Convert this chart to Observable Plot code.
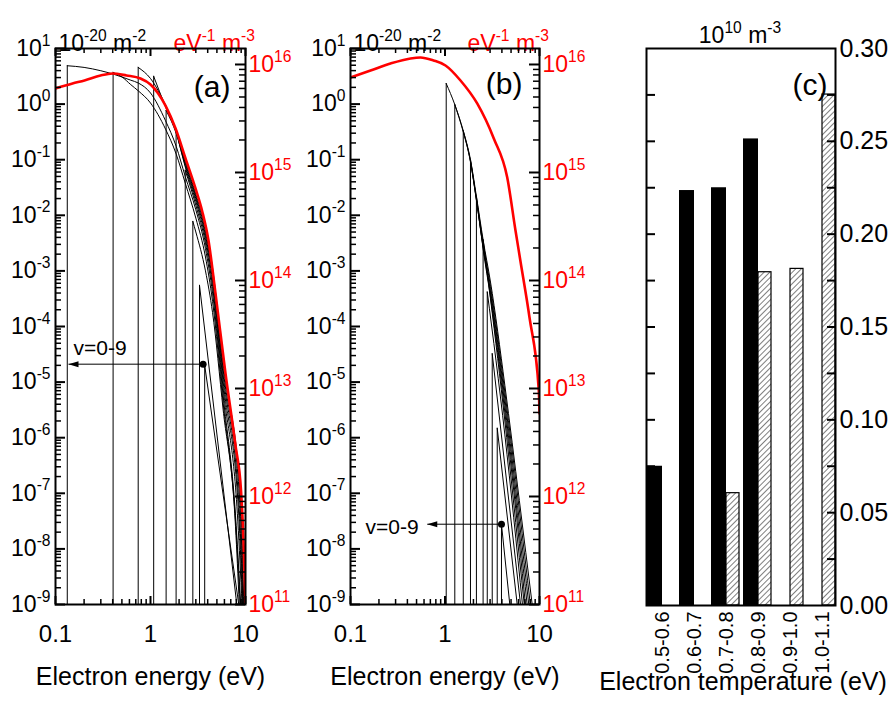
<!DOCTYPE html>
<html><head><meta charset="utf-8">
<script src="https://cdn.jsdelivr.net/npm/d3@7"></script>
<script src="https://cdn.jsdelivr.net/npm/@observablehq/plot@0.6"></script>
<style>
html,body{margin:0;padding:0;background:#fff;overflow:hidden;}
#root{position:relative;width:889px;height:706px;overflow:hidden;background:#fff;}
#root svg{position:absolute;top:0;overflow:visible;}
</style></head><body><div id="root"></div>
<script>
// ---------------- DATA ----------------
const energyDomain = [0.1, 10];             // eV, log axis
const energyTickLabels = [0.1, 1, 10];
const leftDecades = [-9,-8,-7,-6,-5,-4,-3,-2,-1,0,1];   // 10^-20 m^-2
const redDecades = [11,12,13,14,15,16];                  // eV^-1 m^-3
const redTopExponent = 16.148;

// Panel (a): v=0..9 curves, [energy eV, log10 value (10^-20 m^-2)]; first point = threshold/peak
const curvesA = [
  [[0.133,0.69],[0.2,0.66],[0.3,0.6],[0.404,0.54],[0.62,0.43],[0.742,0.38],[1.0,0.2],[1.44,-0.3],[1.865,-0.76],[2.32,-1.3],[3.0,-1.9],[3.79,-2.6],[4.5,-3.4],[5.82,-5.25],[7.85,-7.4],[8.9,-9]],
  [[0.404,0.57],[0.5,0.49],[0.62,0.35],[0.742,0.24],[1.0,0.02],[1.44,-0.45],[1.865,-0.9],[2.32,-1.42],[3.0,-2.05],[3.79,-2.75],[4.5,-3.55],[5.82,-5.38],[7.85,-7.5],[8.8,-9]],
  [[0.742,0.66],[1.0,0.46],[1.44,-0.02],[1.865,-0.47],[2.32,-1.02],[3.0,-1.62],[3.79,-2.24],[4.5,-2.95],[5.82,-4.68],[8.85,-7.08],[9.6,-9]],
  [[1.08,0.5],[1.44,-0.05],[1.865,-0.5],[2.32,-1.06],[3.0,-1.66],[3.79,-2.3],[4.5,-3.02],[5.82,-4.78],[8.75,-7.2],[9.5,-9]],
  [[1.46,-0.115],[1.865,-0.53],[2.32,-1.1],[3.0,-1.7],[3.79,-2.36],[4.5,-3.1],[5.82,-4.88],[8.6,-7.3],[9.4,-9]],
  [[1.86,-0.475],[2.32,-1.13],[3.0,-1.75],[3.79,-2.42],[4.5,-3.18],[5.82,-5.0],[8.5,-7.4],[9.3,-9]],
  [[2.32,-1.19],[3.0,-1.82],[3.79,-2.5],[4.5,-3.28],[5.82,-5.12],[8.3,-7.5],[9.2,-9]],
  [[2.79,-2.11],[3.0,-2.3],[3.79,-3.0],[4.5,-3.75],[5.82,-5.5],[7.85,-7.6],[8.6,-9]],
  [[3.28,-3.26],[8.1,-9]],
  [[3.72,-4.7],[8.5,-9]]
];
// Panel (a) EEDF (red), [energy eV, log10 value (eV^-1 m^-3)]
const eedfA = [[0.1,15.778],[0.151,15.824],[0.202,15.852],[0.298,15.898],[0.398,15.917],[0.559,15.898],[0.785,15.87],[1.0,15.815],[1.438,15.62],[1.837,15.407],[2.337,15.13],[2.977,14.852],[3.527,14.63],[4.078,14.37],[4.833,13.88],[6.158,13.139],[7.847,12.472],[8.967,12.056],[9.527,11.593],[10,11.0]];

// Panel (b)
const curvesB = [
  [[1.03,0.37],[1.27,-0.01],[1.56,-0.48],[1.86,-1.0],[2.15,-1.66],[2.53,-2.44],[3.03,-3.2],[4.3,-5.06],[6.12,-7.13],[8.37,-9]],
  [[1.27,-0.01],[1.56,-0.5],[1.86,-1.03],[2.15,-1.7],[2.53,-2.5],[3.03,-3.28],[4.3,-5.18],[6.12,-7.3],[8.0,-9]],
  [[1.56,-0.48],[1.86,-1.04],[2.15,-1.73],[2.53,-2.55],[3.03,-3.36],[4.3,-5.3],[6.12,-7.5],[7.7,-9]],
  [[1.86,-1.0],[2.15,-1.72],[2.53,-2.58],[3.03,-3.42],[4.3,-5.42],[6.12,-7.7],[7.4,-9]],
  [[2.15,-1.66],[2.53,-2.6],[3.03,-3.48],[4.3,-5.55],[6.12,-7.9],[7.1,-9]],
  [[2.53,-2.44],[3.03,-3.5],[4.3,-5.7],[6.12,-8.15],[6.9,-9]],
  [[2.8,-3.38],[4.3,-5.95],[6.6,-9]],
  [[3.16,-4.49],[6.3,-9]],
  [[3.57,-5.83],[5.81,-9]],
  [[3.96,-7.56],[4.85,-9]]
];
const eedfB = [[0.1,15.88],[0.163,15.944],[0.265,16.009],[0.432,16.056],[0.55,16.065],[0.756,16.037],[1.012,15.991],[1.459,15.852],[2.191,15.639],[3.284,15.315],[4.551,14.956],[5.572,14.463],[6.295,14.176],[7.838,13.657],[9.831,12.981],[10,12.769]];

// "v=0-9" annotation: arrow from dot (x1) to head (x2) at y; label at (tx, ty)
const annotA = {x1: 3.58, x2: 0.137, y: 2.1e-5, tx: 0.155, ty: 4.0e-5, label: "v=0-9"};
const annotB = {x1: 3.96, x2: 0.649, y: 2.78e-8, tx: 0.144, ty: 2.5e-8, label: "v=0-9"};

// Panel (c)
const temperatureBins = ["0.5-0.6","0.6-0.7","0.7-0.8","0.8-0.9","0.9-1.0","1.0-1.1"];
const solidValues   = [0.075, 0.2235, 0.225, 0.2513, null, null];
const hatchedValues = [null, null, 0.0605, 0.1795, 0.1813, 0.2752];
const densityTickLabels = [0, 0.05, 0.10, 0.15, 0.20, 0.25, 0.30];
const densityMinorTicks = [0.025,0.05,0.075,0.1,0.125,0.15,0.175,0.2,0.225,0.25,0.275];

// ---------------- HELPERS ----------------
const FONT = "'Liberation Sans', Arial, Helvetica, sans-serif";
const baseStyle = "background: transparent; font-family: 'Liberation Sans', Arial, sans-serif; overflow: visible;";
const root = document.getElementById("root");
const logMinor = (lo, hi) => { const t = []; for (let e = lo; e < hi; e++) for (let k = 2; k <= 9; k++) t.push(k * Math.pow(10, e)); return t; };
const pow = e => Math.pow(10, e);
const supLabel = d => "10^" + Math.round(Math.log10(d));
const arrowHead = {draw(ctx, size) { const r = Math.sqrt(size / Math.PI); ctx.moveTo(0, 0); ctx.lineTo(2 * r, -0.6 * r); ctx.lineTo(2 * r, 0.6 * r); ctx.closePath(); }};

// inward ticks: tick marks inset to the chosen length (fw, fh = frame size)
const inY = (ticks, side, len, sw, fw) => Plot.tickY(ticks, {y: d => d, stroke: "black", strokeWidth: sw, [side === "left" ? "insetRight" : "insetLeft"]: fw - len});
const inX = (ticks, side, len, sw, fh) => Plot.tickX(ticks, {x: d => d, stroke: "black", strokeWidth: sw, [side === "bottom" ? "insetTop" : "insetBottom"]: fh - len});

function place(svg, left) { svg.style.left = left + "px"; root.appendChild(svg); supify(svg); return svg; }

function supify(svg) {
  svg.querySelectorAll("text").forEach(t => {
    const s = t.textContent;
    if (!s.includes("^")) return;
    const fs = parseFloat(getComputedStyle(t).fontSize) || 22;
    while (t.firstChild) t.removeChild(t.firstChild);
    const parts = s.split(/\^(\S+)/);
    let raised = false;
    parts.forEach((p, i) => {
      if (!p) return;
      const ts = document.createElementNS("http://www.w3.org/2000/svg", "tspan");
      ts.textContent = p;
      if (i % 2) { ts.setAttribute("font-size", (fs * 0.68).toFixed(1)); ts.setAttribute("dy", (-fs * 0.45).toFixed(1)); raised = true; }
      else if (raised) { ts.setAttribute("dy", (fs * 0.45).toFixed(1)); raised = false; }
      t.appendChild(ts);
    });
  });
}

function energyPanel({left, ml, mr, curves, eedf, annot, letter, letterDx, letterDy, redDx}) {
  const rows = curves.flatMap((pts, v) => pts.map(([E, l]) => ({v, E, y: pow(l)})));
  const tops = curves.map((pts, v) => ({v, E: pts[0][0], y: pow(pts[0][1])}));
  const W = 300, H = 706, MT = 48, MB = 102;
  const fw = W - ml - mr, fh = H - MT - MB;
  const common = {width: W, height: H, marginLeft: ml, marginRight: mr, marginTop: MT, marginBottom: MB, style: baseStyle};
  const xMinor = logMinor(-1, 1);
  const base = Plot.plot({
    ...common,
    x: {type: "log", domain: energyDomain},
    y: {type: "log", domain: [1e-9, 10]},
    marks: [
      Plot.ruleX(tops, {x: "E", y1: 1e-9, y2: "y", stroke: "black", strokeWidth: 1}),
      Plot.line(rows, {x: "E", y: "y", z: "v", curve: "monotone-x", stroke: "black", strokeWidth: 1, clip: true}),
      Plot.link([annot], {x1: "x1", y1: "y", x2: "x2", y2: "y", stroke: "black", strokeWidth: 1}),
      Plot.dot([annot], {x: "x1", y: "y", r: 3.5, fill: "black"}),
      Plot.dot([annot], {x: "x2", y: "y", r: 5, symbol: arrowHead, fill: "black"}),
      Plot.text([annot], {x: "tx", y: "ty", text: "label", textAnchor: "start", fontSize: 21}),
      Plot.axisY(leftDecades.map(pow), {anchor: "left", tickSize: 0, tickPadding: 5, tickFormat: supLabel, label: null, fontSize: 23}),
      Plot.axisX(energyTickLabels, {anchor: "bottom", tickSize: 0, tickPadding: 20, tickFormat: d => String(d), label: null, fontSize: 24}),
      Plot.text(["Electron energy (eV)"], {frameAnchor: "bottom", text: d => d, dy: 80, fontSize: 25}),
      Plot.text([letter], {frameAnchor: "top-right", text: d => d, textAnchor: "end", dx: letterDx, dy: letterDy, fontSize: 30}),
      Plot.text(["10^-20 m^-2"], {frameAnchor: "top-left", text: d => d, textAnchor: "start", dx: 3, dy: -14, fontSize: 23}),
      Plot.text(["eV^-1 m^-3"], {frameAnchor: "top-left", text: d => d, textAnchor: "start", dx: redDx, dy: -14, fontSize: 23, fill: "red"})
    ]
  });
  place(base, left);
  const over = Plot.plot({
    ...common,
    x: {type: "log", domain: energyDomain, axis: null},
    y: {type: "log", domain: [pow(redDecades[0]), pow(redTopExponent)]},
    marks: [
      Plot.line(eedf, {x: d => d[0], y: d => pow(d[1]), curve: "monotone-x", stroke: "red", strokeWidth: 2.6, clip: true}),
      Plot.axisY(redDecades.map(pow), {anchor: "right", tickSize: 0, tickPadding: 3, tickFormat: supLabel, label: null, fontSize: 23, color: "red"})
    ]
  });
  place(over, left);
  // dedicated tick layers (frame + inward ticks), drawn on top
  const tickLeft = Plot.plot({
    ...common,
    x: {type: "log", domain: energyDomain, axis: null},
    y: {type: "log", domain: [1e-9, 10], axis: null},
    marks: [
      inY(leftDecades.map(pow), "left", 10, 2, fw),
      inY(logMinor(-9, 1), "left", 6, 1.5, fw),
      inX(energyTickLabels, "bottom", 8, 2, fh),
      inX(xMinor, "bottom", 5, 1.5, fh),
      inX(energyTickLabels, "top", 8, 2, fh),
      inX(xMinor, "top", 5, 1.5, fh),
      Plot.frame({stroke: "black", strokeWidth: 2})
    ]
  });
  place(tickLeft, left);
  const tickRight = Plot.plot({
    ...common,
    x: {type: "log", domain: energyDomain, axis: null},
    y: {type: "log", domain: [pow(redDecades[0]), pow(redTopExponent)], axis: null},
    marks: [
      inY(redDecades.map(pow), "right", 10, 2, fw),
      inY(logMinor(11, 16), "right", 6, 1.5, fw)
    ]
  });
  place(tickRight, left);
}

energyPanel({left: 0, ml: 55, mr: 55, curves: curvesA, eedf: eedfA, annot: annotA, letter: "(a)", letterDx: -15, letterDy: 27, redDx: 118});
energyPanel({left: 295, ml: 55, mr: 56, curves: curvesB, eedf: eedfB, annot: annotB, letter: "(b)", letterDx: -17, letterDy: 24, redDx: 117});

// Panel (c)
const solidRows = temperatureBins.map((c, i) => ({c, v: solidValues[i]})).filter(d => d.v != null);
const hatchedRows = temperatureBins.map((c, i) => ({c, v: hatchedValues[i]})).filter(d => d.v != null);
const cfw = 289 - 46 - 54;
const cCommon = {width: 289, height: 706, marginLeft: 46, marginRight: 54, marginTop: 48, marginBottom: 101, style: baseStyle};
const panelC = Plot.plot({
  ...cCommon,
  x: {type: "band", domain: temperatureBins, padding: 0, range: [46, 238]},
  y: {domain: [0, 0.30]},
  marks: [
    Plot.barY(solidRows, {x: "c", y: "v", fill: "black", insetLeft: 1, insetRight: 16}),
    Plot.barY(hatchedRows, {x: "c", y: "v", fill: "url(#hatch)", stroke: "black", strokeWidth: 1.2, insetLeft: 16, insetRight: 3}),
    Plot.axisY(densityTickLabels, {anchor: "right", tickSize: 0, tickPadding: 4, tickFormat: d3.format(".2f"), label: null, fontSize: 25}),
    Plot.axisX({anchor: "bottom", tickSize: 0, tickPadding: 6, tickRotate: -90, label: null, fontSize: 20}),
    Plot.text(["Electron temperature (eV)"], {frameAnchor: "bottom", text: d => d, dx: 2, dy: 84, fontSize: 25}),
    Plot.text(["(c)"], {frameAnchor: "top-right", text: d => d, textAnchor: "end", dx: -8, dy: 25, fontSize: 30}),
    Plot.text(["10^10 m^-3"], {frameAnchor: "top", text: d => d, dx: -1, dy: -22, fontSize: 23})
  ]
});
const defs = document.createElementNS("http://www.w3.org/2000/svg", "defs");
defs.innerHTML = '<pattern id="hatch" patternUnits="userSpaceOnUse" width="4" height="4" patternTransform="rotate(45)"><rect width="4" height="4" fill="white"/><line x1="0" y1="0" x2="0" y2="4" stroke="black" stroke-width="1"/></pattern>';
panelC.insertBefore(defs, panelC.firstChild);
place(panelC, 600);
const ticksC = Plot.plot({
  ...cCommon,
  x: {domain: [0, 1], axis: null},
  y: {domain: [0, 0.30], axis: null},
  marks: [
    inY(densityMinorTicks, "left", 9, 2, cfw),
    inY(densityMinorTicks, "right", 8, 2, cfw),
    Plot.frame({stroke: "black", strokeWidth: 2})
  ]
});
place(ticksC, 600);
</script></body></html>
